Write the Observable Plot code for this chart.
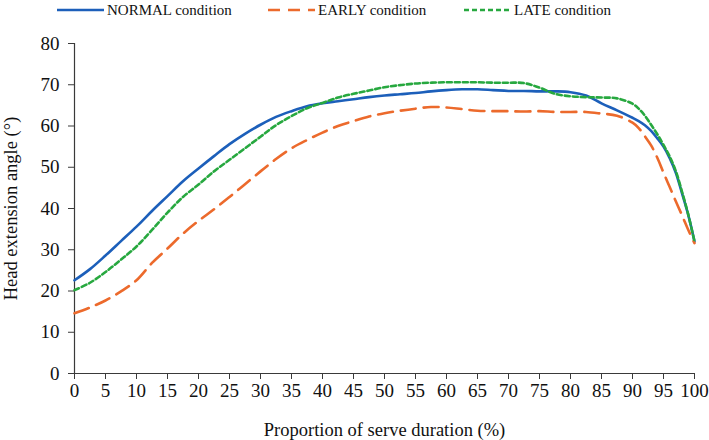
<!DOCTYPE html>
<html>
<head>
<meta charset="utf-8">
<script src="https://cdn.jsdelivr.net/npm/d3@7"></script>
<script src="https://cdn.jsdelivr.net/npm/@observablehq/plot@0.6"></script>
<style>
  html, body { margin: 0; padding: 0; background: #fff; }
  #wrap { position: relative; width: 709px; height: 440px; font-family: "Liberation Serif", "DejaVu Serif", serif; }
  #legend { position: relative; height: 20px; }
  .item { position: absolute; top: 0; height: 20px; display: flex; align-items: center; font-size: 15px; color: #111; }
  .item svg { margin-right: 3px; }
  #chart svg { display: block; }
</style>
</head>
<body>
<div id="wrap">
  <div id="legend"></div>
  <div id="chart"></div>
</div>
<script>
// Proportion of serve duration (%)
const percent = [0, 2.5, 5, 7.5, 10, 12.5, 15, 17.5, 20, 22.5, 25, 27.5, 30, 32.5, 35, 37.5, 40, 42.5, 45, 47.5,
  50, 52.5, 55, 57.5, 60, 62.5, 65, 67.5, 70, 72.5, 75, 77.5, 80, 82.5, 85, 87.5, 90, 91, 92, 93, 94, 95, 96, 97, 98, 99, 100];

// Head extension angle (°) per condition
const normal = [22.6, 25.3, 28.6, 32.1, 35.6, 39.4, 43.0, 46.6, 49.7, 52.7, 55.6, 58.1, 60.3, 62.2, 63.6, 64.8, 65.5, 66.0, 66.5, 67.0,
  67.4, 67.7, 68.0, 68.4, 68.7, 68.9, 68.9, 68.7, 68.5, 68.5, 68.4, 68.4, 68.2, 67.4, 65.5, 63.8, 62.0, 61.2, 60.2, 58.8, 57.0, 55.0, 52.2, 48.6, 43.6, 38.4, 32.0];
const early = [14.6, 16.0, 17.7, 19.9, 22.6, 26.8, 30.3, 33.9, 37.0, 39.8, 42.8, 45.9, 49.0, 52.0, 54.6, 56.6, 58.4, 60.0, 61.2, 62.3,
  63.1, 63.7, 64.2, 64.6, 64.5, 64.1, 63.7, 63.6, 63.6, 63.5, 63.6, 63.4, 63.4, 63.4, 63.0, 62.5, 60.8, 59.5, 57.5, 55.3, 52.3, 48.7, 45.2, 41.7, 38.3, 34.8, 31.6];
const late = [20.2, 22.0, 24.6, 27.6, 30.8, 34.8, 39.0, 42.8, 45.8, 49.0, 51.8, 54.6, 57.4, 60.2, 62.4, 64.3, 65.6, 66.9, 67.8, 68.6,
  69.4, 69.9, 70.3, 70.5, 70.6, 70.6, 70.6, 70.5, 70.5, 70.4, 69.3, 67.8, 67.2, 67.0, 66.9, 66.7, 65.4, 64.2, 62.5, 60.3, 58.0, 55.4, 52.6, 49.0, 44.0, 38.5, 32.0];

const xTicks = d3.range(0, 101, 5);
const yTicks = d3.range(0, 81, 10);

const series = [
  {name: "NORMAL condition", values: normal, color: "#1c5fba", dash: null},
  {name: "EARLY condition", values: early, color: "#ec6a2c", dash: "15,8"},
  {name: "LATE condition", values: late, color: "#27a83f", dash: "5,3"}
];

// Legend above the chart
const legendX = [57, 268, 464];
const legend = document.getElementById("legend");
series.forEach((s, i) => {
  const item = document.createElement("div");
  item.className = "item";
  item.style.left = legendX[i] + "px";
  const dash = s.name.startsWith("EARLY") ? "12,8" : s.dash;
  item.innerHTML = `<svg width="47" height="6"><line x1="0" y1="3" x2="47" y2="3" stroke="${s.color}" stroke-width="2.6"${dash ? ` stroke-dasharray="${dash}"` : ""}/></svg><span>${s.name}</span>`;
  legend.appendChild(item);
});

const rows = s => percent.map((p, i) => ({p, v: s.values[i]}));
const axisColor = "#3a3a3a";

const chart = Plot.plot({
  width: 709,
  height: 420,
  marginTop: 23,
  marginBottom: 67,
  marginLeft: 74,
  marginRight: 15,
  style: {fontFamily: "'Liberation Serif', 'DejaVu Serif', serif", color: "#111", background: "#fff"},
  x: {domain: [0, 100]},
  y: {domain: [0, 80]},
  marks: [
    Plot.axisX(xTicks, {fontSize: 19, tickSize: 6, tickPadding: 4, stroke: axisColor, label: null}),
    Plot.axisY(yTicks, {fontSize: 19, tickSize: 6, tickPadding: 9, stroke: axisColor, label: null}),
    Plot.ruleY([0], {stroke: axisColor, strokeWidth: 1.2}),
    Plot.ruleX([0], {stroke: axisColor, strokeWidth: 1.2}),
    ...series.map(s => Plot.line(rows(s), {
      x: "p", y: "v", curve: "catmull-rom", stroke: s.color, strokeWidth: 2.6,
      strokeDasharray: s.dash ?? undefined
    })),
    Plot.text(["Proportion of serve duration (%)"], {frameAnchor: "bottom", dy: 57, fontSize: 18.5, lineAnchor: "middle", fill: "#111"}),
    Plot.text(["Head extension angle (°)"], {frameAnchor: "left", dx: -63, rotate: -90, fontSize: 18.5, textAnchor: "middle", lineAnchor: "middle", fill: "#111"})
  ]
});
document.getElementById("chart").appendChild(chart);
</script>
</body>
</html>
